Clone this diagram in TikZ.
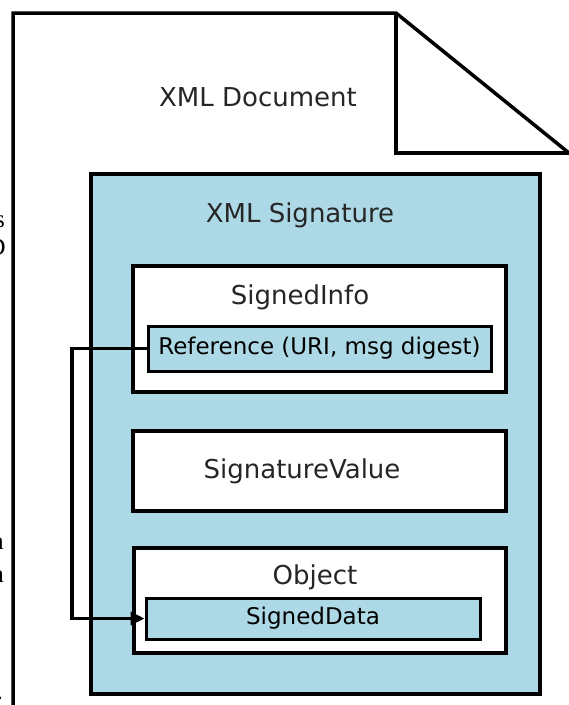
\documentclass[tikz,border=0pt]{standalone}
\usepackage{fontspec}
\setmainfont{DejaVu Sans}
\newfontfamily\seriffrag{Liberation Serif}
\usetikzlibrary{arrows.meta}
\definecolor{sigblue}{HTML}{ADD8E6}
\tikzset{
  outline/.style={draw=black, line width=3.5pt},
  bluebox/.style={draw=black, line width=3.5pt, fill=sigblue, rectangle, inner sep=0pt},
  whitebox/.style={draw=black, line width=3.5pt, fill=white, rectangle, inner sep=0pt},
  smallbox/.style={draw=black, line width=3pt, fill=sigblue, rectangle, inner sep=0pt, font=\fontsize{23}{27}\selectfont},
  title/.style={inner sep=0pt, font=\fontsize{26}{30}\selectfont, text=black!85},
  frag/.style={inner sep=0pt, anchor=east, font=\seriffrag\fontsize{25}{28}\selectfont},
  link/.style={draw=black, line width=3.5pt, -{Triangle[length=14pt,width=13pt]}},
}
\begin{document}
\begin{tikzpicture}[x=1pt,y=-1pt]
\useasboundingbox (0,0) rectangle (569,705);
\clip (0,0) rectangle (569,705);
% stray cropped text fragments on the left
\node[frag] (f1) at (5,222) {s};
\node[frag] (f2) at (6,247) {D};
\node[frag] (f3) at (4,544) {a};
\node[frag] (f4) at (4,577) {n};
\node[frag] (f5) at (3,698) {.};
% page outline with folded corner
\draw[outline] (13,720) -- (13,13) -- (396,13) -- (569,153);
\draw[outline] (396,13) -- (396,153) -- (569,153);
\node[title] (doc) at (258,97) {XML Document};
% XML Signature container
\node[bluebox, minimum width=449pt, minimum height=520pt] (sig) at (315.5,434) {};
\node[title] (sigt) at (300,215) {XML Signature};
% SignedInfo
\node[whitebox, minimum width=373pt, minimum height=126pt] (si) at (319.5,329) {};
\node[title] (sit) at (300,297) {SignedInfo};
\node[smallbox, minimum width=343pt, minimum height=45pt] (ref) at (319.5,348.5) {Reference (URI, msg digest)};
% SignatureValue
\node[whitebox, minimum width=373pt, minimum height=80pt] (sv) at (319.5,471) {};
\node[title] (svt) at (302,471) {SignatureValue};
% Object
\node[whitebox, minimum width=372pt, minimum height=105pt] (obj) at (320,600.5) {};
\node[title] (objt) at (315,577) {Object};
\node[smallbox, minimum width=334pt, minimum height=41pt] (sd) at (313,618.5) {SignedData};
% reference link
\coordinate (bend) at (72,348.5);
\draw[link] (ref.west) -- (bend) |- (sd.west);
\end{tikzpicture}
\end{document}
